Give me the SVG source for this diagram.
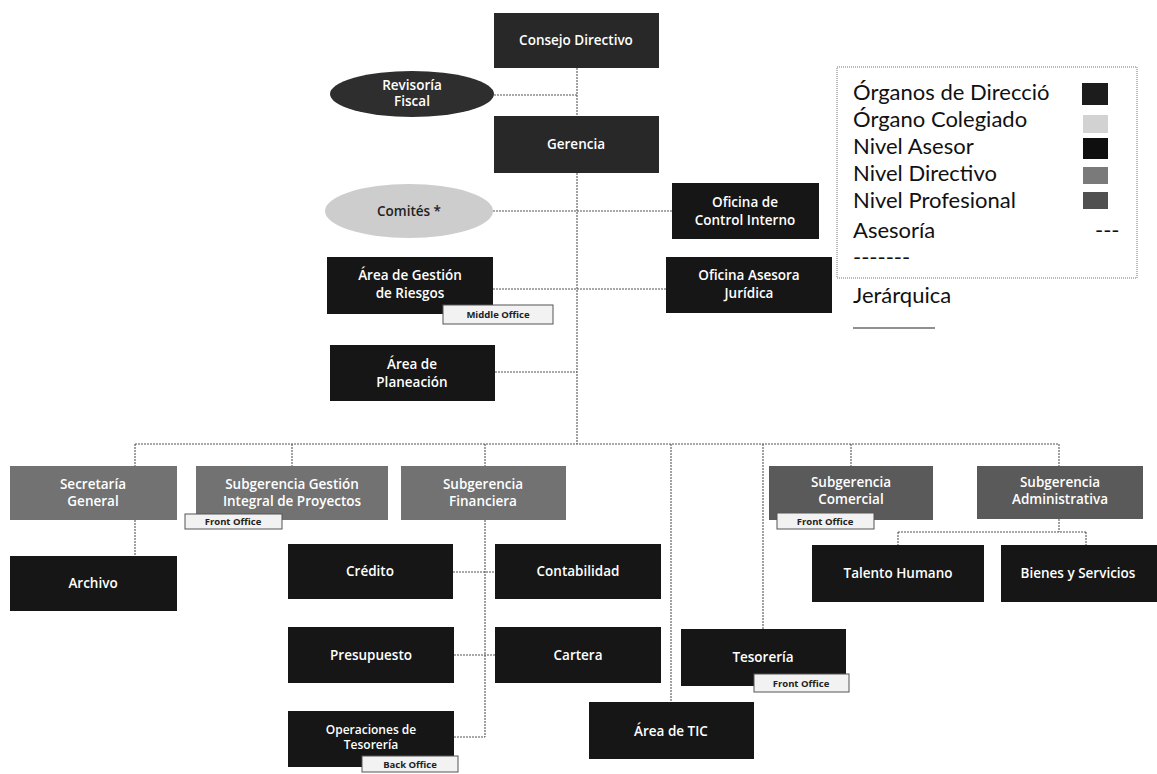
<svg xmlns="http://www.w3.org/2000/svg" width="1157" height="774" viewBox="0 0 1157 774">
<style>
.blk{fill:#161616}
.top{fill:#282828}
.dir{fill:#727272}
.dir2{fill:#5a5a5a}
.t{font-family:"Open Sans","Liberation Sans",sans-serif;font-size:13.5px;font-weight:600;fill:#ffffff;text-anchor:middle}
.td{fill:#222222}
.sm{font-size:12px}
.tag rect{fill:#f2f2f2;stroke:#555;stroke-width:1}
.tag text{font-family:"Open Sans","Liberation Sans",sans-serif;font-size:9.5px;font-weight:700;fill:#222;text-anchor:middle}
.c line{stroke:#555;stroke-width:1.1;stroke-dasharray:2 1;fill:none}
.lg{font-family:Lato,"Open Sans","Liberation Sans",sans-serif;font-size:22px;fill:#111}
</style>
<rect width="1157" height="774" fill="#ffffff"/>
<g id="connectors" class="c">
<line x1="577" y1="68" x2="577" y2="116"/>
<line x1="577" y1="173" x2="577" y2="444"/>
<line x1="494" y1="95" x2="577" y2="95"/>
<line x1="493" y1="211" x2="672" y2="211"/>
<line x1="493" y1="289" x2="666" y2="289"/>
<line x1="495" y1="372" x2="577" y2="372"/>
<line x1="135" y1="444" x2="1059" y2="444"/>
<line x1="135" y1="444" x2="135" y2="466"/>
<line x1="292" y1="444" x2="292" y2="466"/>
<line x1="485" y1="444" x2="485" y2="466"/>
<line x1="671" y1="444" x2="671" y2="702"/>
<line x1="763" y1="444" x2="763" y2="629"/>
<line x1="851" y1="444" x2="851" y2="466"/>
<line x1="1059" y1="444" x2="1059" y2="466"/>
<line x1="135" y1="520" x2="135" y2="556"/>
<line x1="485" y1="520" x2="485" y2="737"/>
<line x1="453" y1="572" x2="495" y2="572"/>
<line x1="454" y1="655" x2="495" y2="655"/>
<line x1="454" y1="737" x2="485" y2="737"/>
<line x1="1059" y1="519" x2="1059" y2="532"/>
<line x1="898" y1="532" x2="1086" y2="532"/>
<line x1="898" y1="532" x2="898" y2="545"/>
<line x1="1086" y1="532" x2="1086" y2="545"/>
</g>
<g id="consejo"><rect class="top" x="494" y="13" width="165" height="55"/><text class="t" x="576" y="45">Consejo Directivo</text></g>
<g id="revisoria"><ellipse cx="412" cy="94" rx="82" ry="23" fill="#2e2e2e"/><text class="t" x="412" y="90">Revisoría</text><text class="t" x="412" y="106">Fiscal</text></g>
<g id="gerencia"><rect class="top" x="494" y="116" width="165" height="57"/><text class="t" x="576" y="149">Gerencia</text></g>
<g id="comites"><ellipse cx="409" cy="211" rx="84" ry="27" fill="#cdcdcd"/><text class="t td" x="409" y="216">Comités *</text></g>
<g id="control"><rect class="blk" x="672" y="183" width="147" height="56"/><text class="t" x="745" y="207">Oficina de</text><text class="t" x="745" y="225">Control Interno</text></g>
<g id="riesgos"><rect class="blk" x="327" y="257" width="166" height="57"/><text class="t" x="410" y="280">Área de Gestión</text><text class="t" x="410" y="298">de Riesgos</text>
<g class="tag"><rect x="443" y="305" width="110" height="19"/><text x="498" y="318">Middle Office</text></g></g>
<g id="juridica"><rect class="blk" x="666" y="257" width="166" height="56"/><text class="t" x="749" y="280">Oficina Asesora</text><text class="t" x="749" y="298">Jurídica</text></g>
<g id="planeacion"><rect class="blk" x="330" y="345" width="165" height="56"/><text class="t" x="412" y="369">Área de</text><text class="t" x="412" y="387">Planeación</text></g>
<g id="secretaria"><rect class="dir" x="10" y="466" width="167" height="54"/><text class="t" x="93" y="489">Secretaría</text><text class="t" x="93" y="506">General</text></g>
<g id="gestion"><rect class="dir" x="196" y="466" width="192" height="54"/><text class="t" x="292" y="489">Subgerencia Gestión</text><text class="t" x="292" y="506">Integral de Proyectos</text>
<g class="tag"><rect x="185" y="514" width="97" height="15"/><text x="233" y="525">Front Office</text></g></g>
<g id="financiera"><rect class="dir" x="401" y="466" width="165" height="54"/><text class="t" x="483" y="489">Subgerencia</text><text class="t" x="483" y="506">Financiera</text></g>
<g id="comercial"><rect class="dir2" x="769" y="466" width="164" height="54"/><text class="t" x="851" y="487">Subgerencia</text><text class="t" x="851" y="504">Comercial</text>
<g class="tag"><rect x="777" y="513" width="97" height="16"/><text x="825" y="525">Front Office</text></g></g>
<g id="administrativa"><rect class="dir2" x="977" y="466" width="166" height="53"/><text class="t" x="1060" y="487">Subgerencia</text><text class="t" x="1060" y="504">Administrativa</text></g>
<g id="archivo"><rect class="blk" x="10" y="556" width="167" height="55"/><text class="t" x="93" y="588">Archivo</text></g>
<g id="credito"><rect class="blk" x="288" y="544" width="165" height="55"/><text class="t" x="370" y="576">Crédito</text></g>
<g id="contabilidad"><rect class="blk" x="495" y="544" width="166" height="55"/><text class="t" x="578" y="576">Contabilidad</text></g>
<g id="talento"><rect class="blk" x="812" y="545" width="172" height="57"/><text class="t" x="898" y="578">Talento Humano</text></g>
<g id="bienes"><rect class="blk" x="1001" y="545" width="156" height="57"/><text class="t" x="1078" y="578">Bienes y Servicios</text></g>
<g id="presupuesto"><rect class="blk" x="288" y="627" width="166" height="56"/><text class="t" x="371" y="660">Presupuesto</text></g>
<g id="cartera"><rect class="blk" x="495" y="627" width="166" height="56"/><text class="t" x="578" y="660">Cartera</text></g>
<g id="tesoreria"><rect class="blk" x="681" y="629" width="165" height="57"/><text class="t" x="763" y="662">Tesorería</text>
<g class="tag"><rect x="754" y="674" width="95" height="18"/><text x="801" y="687">Front Office</text></g></g>
<g id="tic"><rect class="blk" x="589" y="702" width="165" height="57"/><text class="t" x="671" y="736">Área de TIC</text></g>
<g id="operaciones"><rect class="blk" x="288" y="711" width="166" height="56"/><text class="t sm" x="371" y="734">Operaciones de</text><text class="t sm" x="371" y="749">Tesorería</text>
<g class="tag"><rect x="362" y="756" width="96" height="16"/><text x="410" y="768">Back Office</text></g></g>
<g id="legend">
<rect x="837" y="67" width="300" height="211" fill="#ffffff" stroke="#777" stroke-width="1" stroke-dasharray="1 1"/>
<text class="lg" x="853" y="100">Órganos de Direcció</text>
<text class="lg" x="853" y="127">Órgano Colegiado</text>
<text class="lg" x="853" y="154">Nivel Asesor</text>
<text class="lg" x="853" y="181">Nivel Directivo</text>
<text class="lg" x="853" y="208">Nivel Profesional</text>
<text class="lg" x="853" y="238">Asesoría</text>
<text class="lg" x="1095" y="238">---</text>
<text class="lg" x="853" y="265">-------</text>
<rect x="1082" y="83" width="26" height="22" fill="#1c1c1c"/>
<rect x="1083" y="115" width="25" height="18" fill="#d2d2d2"/>
<rect x="1083" y="138" width="25" height="21" fill="#0f0f0f"/>
<rect x="1083" y="167" width="25" height="17" fill="#7a7a7a"/>
<rect x="1083" y="192" width="25" height="17" fill="#505050"/>
<text class="lg" x="853" y="303">Jerárquica</text>
<line x1="853" y1="328" x2="935" y2="328" stroke="#222" stroke-width="1.2"/>
</g>
</svg>
